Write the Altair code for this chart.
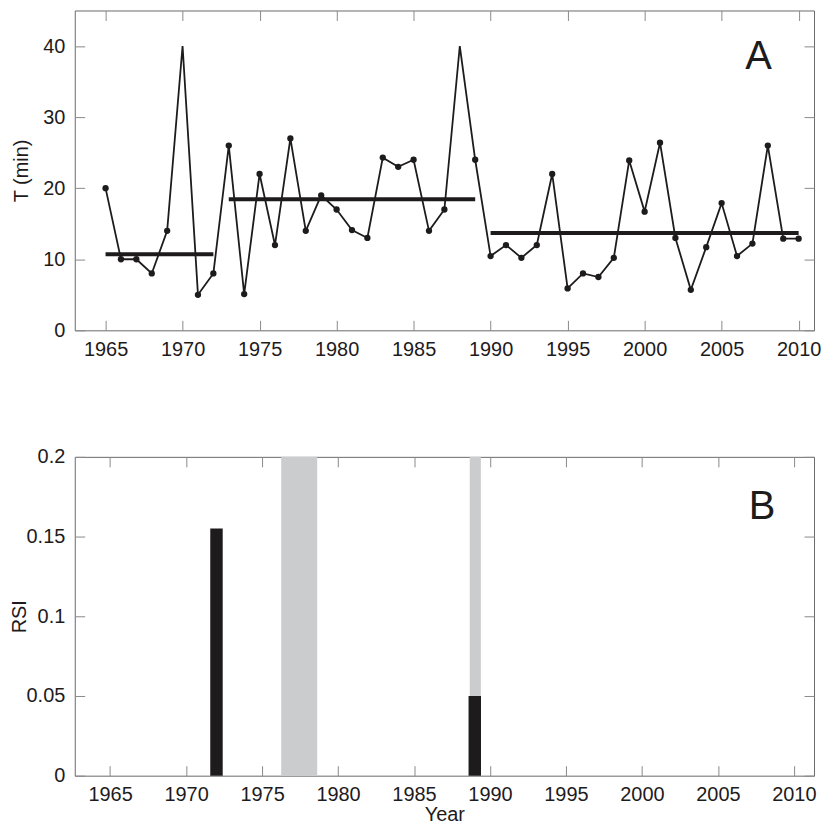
import altair as alt
import pandas as pd

# ---- data ----
years = list(range(1965, 2011))
t_min = [20, 10, 10, 8, 14, 40, 5, 8, 26, 5.1,
         22, 12, 27, 14, 19, 17, 14.1, 13, 24.3, 23,
         24, 14, 17, 40, 24, 10.45, 12, 10.2, 12, 22,
         5.9, 8, 7.5, 10.2, 23.9, 16.7, 26.4, 13, 5.7, 11.7,
         17.9, 10.45, 12.2, 26, 12.9, 12.9]

seg_start = [1965, 1973, 1990]
seg_end = [1972, 1989, 2010]
seg_mean = [10.7, 18.45, 13.7]

rsi_years = [1972, 1989]
rsi_values = [0.155, 0.05]

band_start = [1976.26, 1988.67]
band_end = [1978.63, 1989.4]

year_ticks = [1965, 1970, 1975, 1980, 1985, 1990, 1995, 2000, 2005, 2010]
t_ticks = [0, 10, 20, 30, 40]
rsi_ticks = [0, 0.05, 0.1, 0.15, 0.2]

panel_a = pd.DataFrame({"year": [2007.4], "T": [38.5], "label": ["A"]})
panel_b = pd.DataFrame({"year": [2007.9], "RSI": [0.1685], "label": ["B"]})

df = pd.DataFrame({"year": years, "T": t_min})
seg = pd.DataFrame({"start": seg_start, "end": seg_end, "mean": seg_mean})
rsi = pd.DataFrame({"year": rsi_years, "RSI": rsi_values})
bands = pd.DataFrame({"start": band_start, "end": band_end})

INK = "#1e1b1c"
TICK = "#8a8a8a"
FRAME = "#6a6a6a"
FONT = "Liberation Sans"

W = 742
H_TOP = 321
H_BOT = 320

xscale = alt.Scale(domain=[1963, 2011], nice=False, zero=False)
yscale_t = alt.Scale(domain=[0, 45], nice=False)
yscale_r = alt.Scale(domain=[0, 0.2], nice=False)


def ax(orient, values, labels=True, fmt=None, title=None, title_pad=4, label_pad=10):
    kw = dict(orient=orient, values=values, offset=-10, tickSize=10,
              tickColor=TICK, tickWidth=1, domain=False, grid=False,
              labels=labels, labelPadding=label_pad, title=title,
              titlePadding=title_pad, labelFont=FONT, titleFont=FONT,
              labelFontSize=20, titleFontSize=20, titleFontWeight="normal",
              labelColor=INK, titleColor=INK)
    if fmt:
        kw["format"] = fmt
    return alt.Axis(**kw)


# ---- panel A ----
line = alt.Chart(df).mark_line(color=INK, strokeWidth=1.8).encode(
    x=alt.X("year:Q", scale=xscale,
            axis=ax("bottom", year_ticks, fmt="d", label_pad=9)),
    y=alt.Y("T:Q", scale=yscale_t,
            axis=ax("left", t_ticks, title="T (min)", title_pad=11)),
)
pts = alt.Chart(df).transform_filter("datum.T < 40").mark_circle(
    size=40, color=INK, opacity=1).encode(
    x=alt.X("year:Q", scale=xscale, axis=ax("top", year_ticks, labels=False)),
    y=alt.Y("T:Q", scale=yscale_t, axis=ax("right", t_ticks, labels=False)),
)
means = alt.Chart(seg).mark_rule(color=INK, strokeWidth=4).encode(
    x=alt.X("start:Q", scale=xscale, axis=None),
    x2="end:Q",
    y=alt.Y("mean:Q", scale=yscale_t, axis=None),
)
lab_a = alt.Chart(panel_a).mark_text(fontSize=40, color=INK, align="center",
                                     baseline="middle", font=FONT).encode(
    x=alt.X("year:Q", scale=xscale, axis=None),
    y=alt.Y("T:Q", scale=yscale_t, axis=None),
    text="label:N",
)
top = alt.layer(line, means, pts, lab_a).resolve_axis(
    x="independent", y="independent").properties(width=W, height=H_TOP)

# ---- panel B ----
band_rect = alt.Chart(bands).mark_rect(color="#cbccce").encode(
    x=alt.X("start:Q", scale=xscale, axis=None),
    x2="end:Q",
)
bars = alt.Chart(rsi).mark_bar(size=12.5, color=INK).encode(
    x=alt.X("year:Q", scale=xscale,
            axis=ax("bottom", year_ticks, fmt="d", title="Year", title_pad=0, label_pad=9)),
    y=alt.Y("RSI:Q", scale=yscale_r,
            axis=ax("left", rsi_ticks, fmt="~g", title="RSI", title_pad=-3)),
)
lab_b = alt.Chart(panel_b).mark_text(fontSize=40, color=INK, align="center",
                                     baseline="middle", font=FONT).encode(
    x=alt.X("year:Q", scale=xscale, axis=ax("top", year_ticks, labels=False)),
    y=alt.Y("RSI:Q", scale=yscale_r, axis=ax("right", rsi_ticks, labels=False)),
    text="label:N",
)
bottom = alt.layer(band_rect, bars, lab_b).resolve_axis(
    x="independent", y="independent").properties(width=W, height=H_BOT)

chart = alt.vconcat(top, bottom, spacing=127, bounds="flush").properties(
    padding=0, background="white"
).configure_view(
    stroke=FRAME, strokeWidth=1
)

chart.save("out.html", embed_options={"renderer": "svg", "actions": False})
